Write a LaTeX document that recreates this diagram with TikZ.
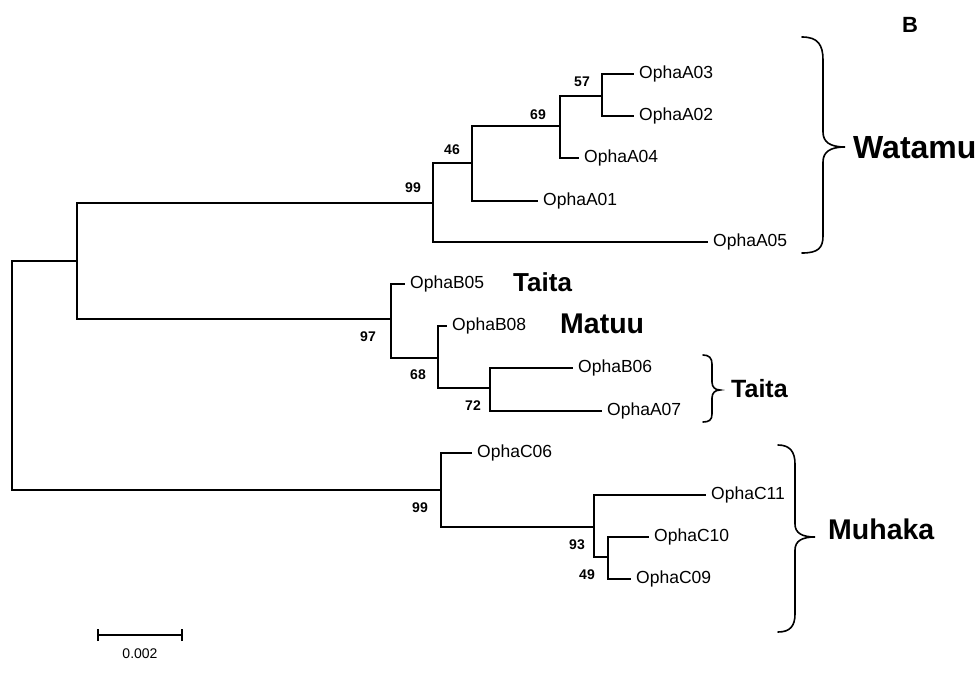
\documentclass[tikz,border=0pt]{standalone}
\usepackage{fontspec}
\setmainfont{Liberation Sans}
\begin{document}
\begin{tikzpicture}[x=1pt,y=-1pt,
  branch/.style={line width=1.6pt, line cap=rect, line join=miter},
  leaf/.style={anchor=west, inner xsep=6pt, inner ysep=0pt, font=\fontsize{17.5}{20}\selectfont},
  boot/.style={inner sep=0pt, font=\fontsize{14}{16}\bfseries\selectfont},
  place/.style={anchor=west, inner sep=0pt, font=\fontsize{#1}{#1}\bfseries\selectfont},
  bracecurve/.style={line width=1.6pt, line cap=round}]
\useasboundingbox (0,0) rectangle (976,672);

% internal nodes
\coordinate (R) at (12,375);
\coordinate (X) at (77,261);
\coordinate (A99) at (433,203);
\coordinate (A46) at (472,163);
\coordinate (A69) at (560,126);
\coordinate (A57) at (602,96);
\coordinate (B97) at (391,319);
\coordinate (B68) at (438,358);
\coordinate (B72) at (490,388);
\coordinate (C99) at (441,490);
\coordinate (C93) at (594,527);
\coordinate (C49) at (608,557);

% leaves
\node[leaf] (A03) at (633,74) {OphaA03};
\node[leaf] (A02) at (633,116) {OphaA02};
\node[leaf] (A04) at (578,158) {OphaA04};
\node[leaf] (A01) at (537,201) {OphaA01};
\node[leaf] (A05) at (707,242) {OphaA05};
\node[leaf] (B05) at (404,284) {OphaB05};
\node[leaf] (B08) at (446,326) {OphaB08};
\node[leaf] (B06) at (572,368) {OphaB06};
\node[leaf] (A07) at (601,411) {OphaA07};
\node[leaf] (C06) at (471,453) {OphaC06};
\node[leaf] (C11) at (705,495) {OphaC11};
\node[leaf] (C10) at (648,537) {OphaC10};
\node[leaf] (C09) at (630,579) {OphaC09};

% branches
\draw[branch] (R) |- (X);
\draw[branch] (R) |- (C99);
\draw[branch] (X) |- (A99);
\draw[branch] (X) |- (B97);
\draw[branch] (A99) |- (A46);
\draw[branch] (A99) |- (A05.west);
\draw[branch] (A46) |- (A69);
\draw[branch] (A46) |- (A01.west);
\draw[branch] (A69) |- (A57);
\draw[branch] (A69) |- (A04.west);
\draw[branch] (A57) |- (A03.west);
\draw[branch] (A57) |- (A02.west);
\draw[branch] (B97) |- (B05.west);
\draw[branch] (B97) |- (B68);
\draw[branch] (B68) |- (B08.west);
\draw[branch] (B68) |- (B72);
\draw[branch] (B72) |- (B06.west);
\draw[branch] (B72) |- (A07.west);
\draw[branch] (C99) |- (C06.west);
\draw[branch] (C99) |- (C93);
\draw[branch] (C93) |- (C11.west);
\draw[branch] (C93) |- (C49);
\draw[branch] (C49) |- (C10.west);
\draw[branch] (C49) |- (C09.west);

% bootstrap values
\node[boot] (bA99) at (413,188) {99};
\node[boot] (bA46) at (452,150) {46};
\node[boot] (bA69) at (538,115) {69};
\node[boot] (bA57) at (582,82) {57};
\node[boot] (bB97) at (368,337) {97};
\node[boot] (bB68) at (418,375) {68};
\node[boot] (bB72) at (473,406) {72};
\node[boot] (bC99) at (420,508) {99};
\node[boot] (bC93) at (577,545) {93};
\node[boot] (bC49) at (587,575) {49};

% place labels
\node[place=26] (taita1) at (513,282) {Taita};
\node[place=28.5] (matuu) at (560,324) {Matuu};
\node[place=32] (watamu) at (853,148) {Watamu};
\node[place=25] (taita2) at (731,389) {Taita};
\node[place=28.5] (muhaka) at (828,529) {Muhaka};
\node[inner sep=0pt, font=\fontsize{22}{22}\bfseries\selectfont] (panel) at (910,25) {B};

% braces
\coordinate (w1) at (802,37);
\coordinate (w2) at (802,253);
\draw[bracecurve] (w1) .. controls (818,37) and (823,45) .. (823,60) -- (823,132)
  .. controls (823,142) and (830,147) .. (845,147)
  .. controls (830,147) and (823,152) .. (823,162) -- (823,236)
  .. controls (823,248) and (818,253) .. (w2);
\coordinate (t1) at (703,355);
\coordinate (t2) at (703,422);
\draw[bracecurve] (t1) .. controls (709,355) and (712,358) .. (712,364) -- (712,382)
  .. controls (712,387) and (715,390) .. (720,390)
  .. controls (715,390) and (712,393) .. (712,398) -- (712,414)
  .. controls (712,420) and (709,422) .. (t2);
\coordinate (m1) at (778,445);
\coordinate (m2) at (778,632);
\draw[bracecurve] (m1) .. controls (790,445) and (795,452) .. (795,464) -- (795,524)
  .. controls (795,533) and (802,537) .. (815,537)
  .. controls (802,537) and (795,541) .. (795,550) -- (795,614)
  .. controls (795,626) and (790,632) .. (m2);

% scale bar
\coordinate (s1) at (98,635);
\coordinate (s2) at (182,635);
\draw[line width=1.3pt] (s1) -- (s2);
\draw[line width=1.3pt] ([yshift=-6]s1) -- ([yshift=6]s1);
\draw[line width=1.3pt] ([yshift=-6]s2) -- ([yshift=6]s2);
\node[inner sep=0pt, font=\fontsize{14}{16}\selectfont] (scale) at (140,654) {0.002};
\end{tikzpicture}
\end{document}
